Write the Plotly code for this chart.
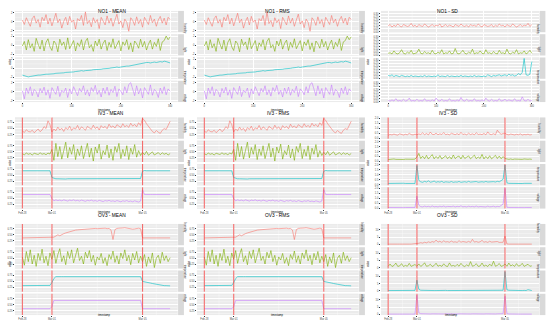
import plotly.graph_objects as go

W, H = 550, 327
STRIP_NAMES = ["humidity", "light", "temperature", "voltage"]
COLORS = ["#F8766D", "#7CAE00", "#00BFC4", "#C77CFF"]

# ---------------- NO1 (index 0..300, step 4) ----------------
NO1_STEP = 4
NO1_TICKS = [0, 100, 200, 300]

NO1_MEAN_HUM = [0.4,-0.6,0.9,0.1,-1.0,0.7,1.3,-0.3,0.5,-1.2,
                1.0,0.2,1.6,-0.5,0.8,-0.9,0.3,1.9,-0.2,0.6,
                -1.4,0.1,1.0,-0.7,1.2,-0.1,0.4,-1.6,0.7,0.2,
                1.4,-0.8,2.2,-0.4,0.3,-1.1,0.9,-0.2,0.5,-1.5,
                1.0,0.1,-0.7,1.3,-0.3,0.8,-1.0,0.4,1.7,-0.5,
                0.2,-1.3,0.6,-0.1,-2.1,0.9,0.3,-0.8,1.1,-0.4,
                0.5,-1.2,1.0,0.2,-0.6,1.4,-0.2,0.6,-1.0,0.4,
                1.2,-0.3,0.8,-0.7,1.0,0.5]
NO1_MEAN_LIGHT = [-0.2,0.8,-1.1,1.2,-0.6,0.3,-1.4,1.5,0.2,-0.9,
                  1.1,-1.3,0.6,1.4,-0.4,-1.2,0.9,0.3,-1.5,1.3,
                  -0.1,0.7,-1.0,1.6,-0.8,0.2,1.0,-1.3,0.5,-0.3,
                  1.2,-1.1,0.8,1.5,-0.6,0.1,-1.4,0.9,-0.2,1.3,
                  -0.9,0.4,1.1,-1.2,0.6,-0.5,1.4,-0.8,0.2,1.0,
                  -1.3,0.7,-0.1,1.2,-1.0,0.5,-1.5,0.9,0.3,-0.7,
                  1.3,-0.4,0.8,-1.1,0.2,1.1,-0.9,0.6,-0.3,1.4,
                  -1.2,0.7,1.0,2.0,1.2,1.8]
NO1_MEAN_TEMP = [-1.5,-1.6,-1.8,-1.9,-1.8,-1.7,-1.6,-1.6,-1.5,-1.5,
                 -1.4,-1.4,-1.3,-1.3,-1.3,-1.2,-1.2,-1.1,-1.1,-1.0,
                 -1.0,-1.0,-0.9,-0.9,-0.8,-0.8,-0.8,-0.7,-0.7,-0.6,
                 -0.5,-0.6,-0.5,-0.5,-0.4,-0.4,-0.3,-0.3,-0.3,-0.2,
                 -0.2,-0.1,-0.1,0.0,0.0,0.1,0.1,0.2,0.3,0.2,
                 0.3,0.4,0.4,0.5,0.5,0.6,0.6,0.7,0.8,0.9,
                 1.1,1.2,1.2,1.3,1.3,1.2,1.3,1.4,1.3,1.4,
                 1.5,1.4,1.6,1.5,1.3,1.2]
NO1_MEAN_VOLT = [0.2,-1.6,0.8,-0.4,1.1,-0.9,0.5,0.0,-1.2,0.7,
                 -0.3,1.0,-0.8,0.4,-1.5,0.9,0.1,-0.6,1.2,-1.1,
                 0.3,-0.2,0.8,-1.3,0.6,-0.5,1.1,0.2,-0.9,0.7,
                 -0.1,1.3,-0.7,0.4,-1.0,0.9,0.0,1.4,-0.6,0.3,
                 -1.2,0.8,-0.4,1.0,-0.8,0.5,-0.2,1.2,-1.1,0.6,
                 0.1,-0.7,1.1,-0.3,1.6,2.0,0.4,-0.9,1.3,-0.5,
                 0.7,-1.4,0.9,0.2,-0.6,1.5,-0.8,0.5,0.0,-1.3,
                 0.8,-0.4,1.1,-0.7,0.6,0.1]
# RMS panels look identical to the MEAN panels
NO1_RMS_HUM, NO1_RMS_LIGHT, NO1_RMS_TEMP, NO1_RMS_VOLT = NO1_MEAN_HUM, NO1_MEAN_LIGHT, NO1_MEAN_TEMP, NO1_MEAN_VOLT

NO1_SD_HUM = [0.10,0.12,0.08,0.11,0.09,0.13,0.10,0.08,0.12,0.11,
              0.09,0.10,0.14,0.09,0.11,0.08,0.12,0.10,0.09,0.13,
              0.11,0.08,0.10,0.12,0.09,0.11,0.10,0.13,0.08,0.10,
              0.12,0.09,0.11,0.10,0.08,0.12,0.11,0.09,0.13,0.10,
              0.09,0.11,0.08,0.12,0.10,0.11,0.09,0.13,0.10,0.08,
              0.12,0.11,0.09,0.10,0.12,0.08,0.11,0.09,0.13,0.10,
              0.11,0.08,0.12,0.10,0.09,0.13,0.11,0.08,0.10,0.12,
              0.09,0.11,0.10,0.14,0.09,0.12]
NO1_SD_LIGHT = [0.03,0.04,0.02,0.07,0.03,0.02,0.04,0.09,0.03,0.02,
                0.05,0.03,0.08,0.02,0.03,0.04,0.10,0.03,0.02,0.06,
                0.03,0.04,0.02,0.08,0.03,0.02,0.05,0.03,0.09,0.02,
                0.04,0.03,0.07,0.02,0.03,0.11,0.03,0.02,0.04,0.08,
                0.03,0.02,0.05,0.03,0.10,0.02,0.04,0.03,0.07,0.03,
                0.02,0.09,0.03,0.04,0.02,0.06,0.03,0.02,0.08,0.03,
                0.04,0.02,0.10,0.03,0.02,0.05,0.03,0.09,0.02,0.04,
                0.03,0.07,0.02,0.04,0.08,0.03]
NO1_SD_TEMP = [0.05,0.04,0.06,0.03,0.05,0.04,0.03,0.05,0.04,0.03,
               0.04,0.03,0.05,0.03,0.04,0.03,0.03,0.04,0.03,0.05,
               0.03,0.04,0.03,0.03,0.04,0.03,0.06,0.03,0.04,0.03,
               0.03,0.05,0.03,0.04,0.03,0.03,0.04,0.03,0.05,0.03,
               0.04,0.03,0.03,0.04,0.03,0.05,0.03,0.04,0.03,0.03,
               0.04,0.03,0.06,0.04,0.03,0.05,0.04,0.05,0.06,0.04,
               0.05,0.06,0.04,0.07,0.05,0.06,0.04,0.05,0.08,0.06,
               0.10,0.33,0.06,0.05,0.07,0.28]
NO1_SD_VOLT = [0.02,0.01,0.03,0.01,0.05,0.01,0.02,0.01,0.04,0.01,
               0.02,0.06,0.01,0.02,0.01,0.04,0.01,0.02,0.01,0.05,
               0.01,0.02,0.01,0.03,0.01,0.06,0.02,0.01,0.04,0.01,
               0.02,0.01,0.05,0.01,0.02,0.01,0.03,0.01,0.07,0.02,
               0.01,0.04,0.01,0.02,0.01,0.05,0.01,0.02,0.01,0.03,
               0.01,0.06,0.02,0.01,0.04,0.01,0.02,0.01,0.05,0.01,
               0.02,0.04,0.01,0.03,0.02,0.01,0.05,0.01,0.02,0.01,
               0.08,0.02,0.01,0.04,0.01,0.02]

# ---------------- IV3 / OV3 (time index 0..150, step 2) ----------------
EV_STEP = 2
EVENTS = [0, 30, 122]
EVENT_LABELS = ["Feb 28", "Mar 01", "Mar 05"]

IV3_MEAN_HUM = ([0.40,0.34,0.45,0.38,0.36,0.43,0.33,0.41,0.48,0.37,0.44,0.58,0.50,0.82,0.66] +
                [0.36,0.48,0.41,0.56,0.44,0.51,0.38,0.54,0.46,0.60,
                 0.42,0.53,0.48,0.63,0.45,0.57,0.51,0.43,0.59,0.54,
                 0.47,0.64,0.50,0.57,0.44,0.62,0.53,0.59,0.49,0.68,
                 0.55,0.61,0.52,0.66,0.58,0.54,0.70,0.57,0.63,0.55,
                 0.72,0.60,0.67,0.57,0.74,0.63] +
                [0.92,0.84,0.70,0.60,0.46,0.38,0.32,0.42,0.35,0.30,0.43,0.50,0.46,0.66,0.80])
IV3_MEAN_LIGHT = ([0.42,0.38,0.45,0.40,0.43,0.37,0.44,0.41,0.39,0.46,0.40,0.43,0.38,0.45,0.41] +
                  [0.60,0.15,0.85,0.30,0.72,0.20,0.55,0.90,0.25,0.68,
                   0.40,0.80,0.18,0.62,0.35,0.75,0.22,0.58,0.85,0.28,
                   0.65,0.12,0.70,0.45,0.82,0.20,0.55,0.38,0.78,0.25,
                   0.62,0.15,0.72,0.48,0.85,0.22,0.60,0.32,0.75,0.18,
                   0.65,0.40,0.80,0.28,0.55,0.35] +
                  [0.48,0.38,0.52,0.36,0.44,0.50,0.37,0.43,0.47,0.38,0.46,0.40,0.44,0.37,0.43])
IV3_MEAN_TEMP = ([0.68,0.68,0.69,0.68,0.68,0.67,0.68,0.68,0.69,0.68,0.68,0.68,0.67,0.68,0.68] +
                 [0.40,0.36,0.35,0.35,0.34,0.35,0.35,0.34,0.35,0.35,
                  0.36,0.35,0.35,0.34,0.35,0.35,0.35,0.36,0.35,0.35,
                  0.34,0.35,0.35,0.35,0.36,0.35,0.35,0.34,0.35,0.35,
                  0.35,0.34,0.35,0.35,0.36,0.35,0.35,0.34,0.35,0.35,
                  0.35,0.34,0.35,0.35,0.35,0.36] +
                 [0.66,0.69,0.68,0.68,0.69,0.68,0.68,0.68,0.69,0.68,0.68,0.68,0.68,0.69,0.68])
IV3_MEAN_VOLT = ([0.66,0.66,0.66,0.67,0.66,0.66,0.66,0.66,0.67,0.66,0.66,0.66,0.66,0.66,0.66] +
                 [0.50,0.40,0.44,0.41,0.43,0.40,0.44,0.42,0.39,0.43,
                  0.41,0.44,0.40,0.42,0.39,0.43,0.41,0.38,0.42,0.40,
                  0.43,0.39,0.41,0.38,0.42,0.40,0.37,0.41,0.39,0.42,
                  0.38,0.40,0.37,0.41,0.39,0.36,0.40,0.38,0.41,0.37,
                  0.39,0.36,0.40,0.38,0.35,0.39] +
                 [0.86,0.66,0.67,0.66,0.66,0.66,0.66,0.67,0.66,0.66,0.66,0.66,0.66,0.67,0.66])
IV3_RMS_HUM, IV3_RMS_LIGHT, IV3_RMS_TEMP, IV3_RMS_VOLT = IV3_MEAN_HUM, IV3_MEAN_LIGHT, IV3_MEAN_TEMP, IV3_MEAN_VOLT

IV3_SD_HUM = ([0.30,0.38,0.33,0.42,0.35,0.31,0.45,0.36,0.32,0.40,0.34,0.50,0.37,0.33,0.41] +
              [0.35,0.44,0.38,0.55,0.36,0.48,0.34,0.62,0.40,0.37,
               0.52,0.35,0.45,0.38,0.58,0.36,0.42,0.34,0.50,0.39,
               0.36,0.47,0.35,0.60,0.38,0.43,0.34,0.51,0.37,0.45,
               0.35,0.56,0.38,0.42,0.36,0.49,0.34,0.64,0.40,0.37,
               0.46,0.35,0.82,0.55,0.40,0.48] +
              [0.50,0.38,0.34,0.42,0.36,0.33,0.40,0.35,0.44,0.32,0.38,0.35,0.41,0.33,0.37])
IV3_SD_LIGHT = ([0.20,0.24,0.21,0.26,0.22,0.20,0.25,0.23,0.21,0.24,0.22,0.27,0.21,0.23,0.25] +
                [0.45,0.82,0.30,0.55,0.28,0.62,0.25,0.48,0.70,0.27,
                 0.52,0.30,0.60,0.26,0.45,0.58,0.28,0.50,0.25,0.66,
                 0.29,0.48,0.55,0.26,0.62,0.30,0.44,0.57,0.27,0.50,
                 0.64,0.28,0.46,0.30,0.72,0.26,0.52,0.29,0.58,0.27,
                 0.48,0.62,0.30,0.55,0.28,0.50] +
                [0.30,0.24,0.22,0.26,0.21,0.25,0.23,0.20,0.24,0.22,0.26,0.21,0.23,0.25,0.22])
IV3_SD_TEMP = ([0.14,0.15,0.13,0.16,0.14,0.15,0.13,0.14,0.16,0.14,0.15,0.13,0.14,0.15,0.14] +
               [1.95,0.45,0.30,0.25,0.35,0.28,0.40,0.26,0.30,0.38,
                0.25,0.32,0.27,0.35,0.24,0.30,0.28,0.26,0.33,0.25,
                0.29,0.27,0.34,0.25,0.28,0.31,0.26,0.35,0.27,0.30,
                0.28,0.33,0.26,0.29,0.31,0.27,0.34,0.28,0.30,0.26,
                0.32,0.28,0.35,0.30,0.45,0.55] +
               [2.00,0.20,0.15,0.14,0.15,0.13,0.14,0.15,0.14,0.13,0.15,0.14,0.13,0.14,0.15])
IV3_SD_VOLT = ([0.06,0.05,0.06,0.05,0.06,0.05,0.05,0.06,0.05,0.06,0.05,0.06,0.05,0.05,0.06] +
               [1.20,0.30,0.15,0.12,0.20,0.14,0.18,0.12,0.22,0.13,
                0.16,0.12,0.19,0.14,0.21,0.12,0.17,0.13,0.15,0.20,
                0.12,0.18,0.14,0.23,0.13,0.16,0.12,0.19,0.14,0.17,
                0.13,0.21,0.12,0.16,0.14,0.18,0.12,0.20,0.13,0.15,
                0.19,0.12,0.17,0.14,0.25,0.40] +
               [1.98,0.08,0.06,0.05,0.06,0.05,0.06,0.05,0.05,0.06,0.05,0.06,0.05,0.06,0.05])

OV3_MEAN_HUM = ([0.37,0.37,0.37,0.37,0.37,0.37,0.37,0.37,0.37,0.37,0.37,0.37,0.37,0.37,0.37] +
                [0.37,0.40,0.45,0.50,0.46,0.52,0.55,0.58,0.61,0.64,
                 0.66,0.68,0.70,0.71,0.72,0.73,0.74,0.74,0.75,0.76,
                 0.75,0.76,0.77,0.76,0.77,0.78,0.77,0.78,0.76,0.77,
                 0.70,0.30,0.72,0.77,0.78,0.77,0.79,0.80,0.78,0.79,
                 0.76,0.74,0.75,0.77,0.78,0.76] +
                [0.37,0.37,0.37,0.37,0.37,0.37,0.37,0.37,0.37,0.37,0.37,0.37,0.37,0.37,0.37])
OV3_MEAN_LIGHT = ([0.55,0.20,0.78,0.35,0.85,0.25,0.62,0.15,0.70,0.40,0.88,0.30,0.58,0.18,0.72] +
                  [0.45,0.82,0.28,0.65,0.90,0.35,0.60,0.22,0.78,0.48,
                   0.85,0.30,0.68,0.92,0.40,0.58,0.25,0.75,0.50,0.82,
                   0.35,0.62,0.20,0.55,0.42,0.70,0.28,0.52,0.18,0.65,
                   0.45,0.80,0.32,0.60,0.25,0.72,0.48,0.85,0.38,0.62,
                   0.22,0.70,0.42,0.78,0.30,0.58] +
                  [0.35,0.65,0.15,0.55,0.30,0.72,0.10,0.50,0.62,0.28,0.75,0.40,0.60,0.35,0.52])
OV3_MEAN_TEMP = ([0.32,0.32,0.31,0.31,0.31,0.30,0.30,0.30,0.30,0.30,0.30,0.30,0.31,0.31,0.33] +
                 [0.45,0.62,0.70,0.71,0.71,0.70,0.70,0.70,0.71,0.70,
                  0.70,0.70,0.69,0.70,0.70,0.70,0.71,0.70,0.70,0.70,
                  0.70,0.69,0.70,0.70,0.70,0.70,0.71,0.70,0.70,0.69,
                  0.70,0.70,0.70,0.71,0.70,0.70,0.70,0.69,0.70,0.70,
                  0.70,0.70,0.71,0.70,0.70,0.70] +
                 [0.50,0.49,0.47,0.45,0.43,0.41,0.39,0.37,0.35,0.34,0.33,0.32,0.32,0.31,0.31])
OV3_MEAN_VOLT = ([0.33,0.33,0.33,0.33,0.33,0.33,0.33,0.33,0.33,0.33,0.33,0.33,0.33,0.33,0.33] +
                 [0.42,0.68,0.68,0.68,0.68,0.68,0.68,0.67,0.68,0.68,
                  0.68,0.68,0.68,0.68,0.67,0.68,0.68,0.68,0.68,0.68,
                  0.68,0.67,0.68,0.68,0.68,0.68,0.68,0.68,0.67,0.68,
                  0.68,0.68,0.68,0.68,0.68,0.67,0.68,0.68,0.68,0.68,
                  0.68,0.68,0.67,0.68,0.68,0.68] +
                 [0.33,0.33,0.33,0.33,0.33,0.33,0.33,0.33,0.33,0.33,0.33,0.33,0.33,0.33,0.33])
OV3_RMS_HUM, OV3_RMS_LIGHT, OV3_RMS_TEMP, OV3_RMS_VOLT = OV3_MEAN_HUM, OV3_MEAN_LIGHT, OV3_MEAN_TEMP, OV3_MEAN_VOLT

OV3_SD_HUM = ([0.2,0.3,0.2,0.2,0.3,0.2,0.2,0.3,0.2,0.2,0.3,0.2,0.2,0.3,0.2] +
              [0.5,0.8,1.2,0.9,1.5,1.1,1.8,1.3,2.0,1.5,
               3.0,1.6,2.2,1.4,2.5,1.7,1.9,1.5,2.3,1.6,
               1.8,1.4,2.6,1.5,2.0,1.7,1.5,2.1,1.4,3.5,
               1.6,2.0,1.5,1.8,2.8,1.5,1.9,1.4,2.2,1.6,
               1.8,1.5,2.0,1.4,1.7,1.5] +
              [5.8,0.3,0.2,0.2,0.3,0.2,0.2,0.3,0.2,0.2,0.3,0.2,0.2,0.3,0.2])
OV3_SD_LIGHT = ([1.0,2.5,0.8,1.5,3.2,0.9,1.2,2.8,0.8,1.6,1.0,3.0,0.9,1.4,2.2] +
                [1.0,2.6,0.9,1.8,3.4,1.0,1.3,2.4,0.8,1.5,
                 3.1,1.0,1.7,0.9,2.7,1.2,0.8,3.3,1.1,1.6,
                 0.9,2.3,1.0,3.0,1.4,0.8,2.0,1.1,4.2,1.0,
                 1.5,2.8,0.9,1.2,3.2,1.0,1.8,0.8,2.5,1.1,
                 4.5,1.0,1.6,2.9,0.9,1.4] +
                [2.6,1.0,3.2,1.2,2.0,0.9,2.8,1.1,1.5,3.0,0.9,1.8,2.4,1.0,1.3])
OV3_SD_TEMP = ([0.3,0.3,0.2,0.3,0.3,0.2,0.3,0.3,0.2,0.3,0.3,0.2,0.3,0.3,0.4] +
               [7.5,1.2,0.5,0.4,0.3,0.4,0.3,0.3,0.4,0.3,
                0.3,0.4,0.3,0.3,0.3,0.4,0.3,0.3,0.3,0.4,
                0.3,0.3,0.4,0.3,0.3,0.3,0.4,0.3,0.3,0.3,
                0.4,0.3,0.3,0.3,0.4,0.3,0.3,0.3,0.4,0.3,
                0.3,0.3,0.4,0.3,0.3,0.5] +
               [13.5,0.8,0.5,0.4,0.4,0.3,0.4,0.3,0.4,0.3,0.4,0.3,0.9,0.4,0.3])
OV3_SD_VOLT = ([0.1,0.2,0.1,0.1,0.2,0.1,0.1,0.2,0.1,0.1,0.2,0.1,0.1,0.2,0.1] +
               [13.2,1.0,0.4,0.3,0.2,0.3,0.2,0.2,0.3,0.2,
                0.2,0.3,0.2,0.2,0.2,0.3,0.2,0.2,0.3,0.2,
                0.2,0.2,0.3,0.2,0.2,0.3,0.2,0.2,0.2,0.3,
                0.2,0.2,0.3,0.2,0.2,0.2,0.3,0.2,0.2,0.3,
                0.2,0.2,0.3,0.2,0.3,0.4] +
               [12.5,0.4,0.2,0.1,0.2,0.1,0.1,0.2,0.1,0.1,0.2,0.1,0.1,0.2,0.1])

# y-axis tick settings per panel type
Y_MEAN_NO1 = dict(vals=[-2, 0, 2], text=["-2", "0", "2"], minor=[-1, 1])
Y_MEAN_EV = dict(vals=[0.25, 0.5, 0.75], text=["0.25", "0.50", "0.75"], minor=[0.125, 0.375, 0.625, 0.875])
Y_SD_NO1 = dict(vals=[0, 0.05, 0.1, 0.15, 0.2, 0.25, 0.3],
                text=["0.00", "0.05", "0.10", "0.15", "0.20", "0.25", "0.30"], minor=[])
Y_SD_IV3 = dict(vals=[0, 0.5, 1.0, 1.5, 2.0], text=["0.0", "0.5", "1.0", "1.5", "2.0"],
                minor=[0.25, 0.75, 1.25, 1.75])
Y_SD_OV3 = dict(vals=[0, 5, 10], text=["0", "5", "10"], minor=[2.5, 7.5, 12.5])

PANELS = [
    (0, 0, "NO1 - MEAN", [NO1_MEAN_HUM, NO1_MEAN_LIGHT, NO1_MEAN_TEMP, NO1_MEAN_VOLT], "no1", Y_MEAN_NO1),
    (0, 1, "NO1 - RMS", [NO1_RMS_HUM, NO1_RMS_LIGHT, NO1_RMS_TEMP, NO1_RMS_VOLT], "no1", Y_MEAN_NO1),
    (0, 2, "NO1 - SD", [NO1_SD_HUM, NO1_SD_LIGHT, NO1_SD_TEMP, NO1_SD_VOLT], "no1", Y_SD_NO1),
    (1, 0, "IV3 - MEAN", [IV3_MEAN_HUM, IV3_MEAN_LIGHT, IV3_MEAN_TEMP, IV3_MEAN_VOLT], "ev", Y_MEAN_EV),
    (1, 1, "IV3 - RMS", [IV3_RMS_HUM, IV3_RMS_LIGHT, IV3_RMS_TEMP, IV3_RMS_VOLT], "ev", Y_MEAN_EV),
    (1, 2, "IV3 - SD", [IV3_SD_HUM, IV3_SD_LIGHT, IV3_SD_TEMP, IV3_SD_VOLT], "ev", Y_SD_IV3),
    (2, 0, "OV3 - MEAN", [OV3_MEAN_HUM, OV3_MEAN_LIGHT, OV3_MEAN_TEMP, OV3_MEAN_VOLT], "ev", Y_MEAN_EV),
    (2, 1, "OV3 - RMS", [OV3_RMS_HUM, OV3_RMS_LIGHT, OV3_RMS_TEMP, OV3_RMS_VOLT], "ev", Y_MEAN_EV),
    (2, 2, "OV3 - SD", [OV3_SD_HUM, OV3_SD_LIGHT, OV3_SD_TEMP, OV3_SD_VOLT], "ev", Y_SD_OV3),
]

# layout geometry (pixels)
COL_LEFT = [0, 183, 366]
COL_PLOT = [(15, 177.5), (197, 358.5), (381, 539)]
ROW_TOP = [0, 107.5, 215]
FONT = "Liberation Sans, Arial, sans-serif"
TICK_FONT = dict(size=2.6, color="#4D4D4D", family=FONT)


def px(x):
    return x / W


def py(y):
    return 1 - y / H


fig = go.Figure()
layout = {}
shapes = []
annotations = []
n = 0
for (row, col, title, series, kind, yt) in PANELS:
    x0p, x1p = COL_PLOT[col]
    T = ROW_TOP[row]
    top, bot, gap = T + 10, T + 102, 2
    h = (bot - top - 3 * gap) / 4
    allv = [v for s in series for v in s]
    lo, hi = min(allv), max(allv)
    pad = (hi - lo) * 0.05
    yr = [lo - pad, hi + pad]
    if kind == "no1":
        step = NO1_STEP
        xr = [-15, 315]
        xt, xtt = NO1_TICKS, [str(v) for v in NO1_TICKS]
        xminor = [50, 150, 250]
    else:
        step = EV_STEP
        xr = [-7.5, 157.5]
        xt, xtt = EVENTS, EVENT_LABELS
        xminor = [15, 76, 136]
    for k, s in enumerate(series):
        n += 1
        sfx = "" if n == 1 else str(n)
        ys0 = top + k * (h + gap)
        ys1 = ys0 + h
        xs = [i * step for i in range(len(s))]
        fig.add_trace(go.Scatter(
            x=xs, y=s, mode="lines", line=dict(color=COLORS[k], width=0.6),
            xaxis="x" + sfx, yaxis="y" + sfx, showlegend=False, hoverinfo="skip"))
        last = (k == 3)
        layout["xaxis" + sfx] = dict(
            domain=[px(x0p), px(x1p)], anchor="y" + sfx, range=xr,
            tickmode="array", tickvals=xt, ticktext=xtt,
            showticklabels=last, ticks="outside" if last else "", ticklen=1,
            tickwidth=0.5, tickcolor="#333333", tickfont=TICK_FONT,
            showgrid=True, gridcolor="white", gridwidth=0.7,
            zeroline=False, showline=False, fixedrange=True)
        layout["yaxis" + sfx] = dict(
            domain=[py(ys1), py(ys0)], anchor="x" + sfx, range=yr,
            tickmode="array", tickvals=yt["vals"], ticktext=yt["text"],
            ticks="outside", ticklen=1, tickwidth=0.5, tickcolor="#333333", tickfont=TICK_FONT,
            showgrid=True, gridcolor="white", gridwidth=0.7,
            zeroline=False, showline=False, fixedrange=True)
        # grey panel background
        shapes.append(dict(type="rect", xref="x" + sfx + " domain", yref="y" + sfx + " domain",
                           x0=0, x1=1, y0=0, y1=1, fillcolor="#EBEBEB",
                           line=dict(width=0), layer="below"))
        # thin minor grid lines
        for mx in xminor:
            shapes.append(dict(type="line", xref="x" + sfx, yref="y" + sfx + " domain",
                               x0=mx, x1=mx, y0=0, y1=1, line=dict(color="white", width=0.35),
                               layer="below"))
        for my in yt["minor"]:
            if yr[0] < my < yr[1]:
                shapes.append(dict(type="line", xref="x" + sfx + " domain", yref="y" + sfx,
                                   x0=0, x1=1, y0=my, y1=my, line=dict(color="white", width=0.35),
                                   layer="below"))
        if kind == "ev":
            for ev in EVENTS:
                shapes.append(dict(type="line", xref="x" + sfx, yref="y" + sfx + " domain",
                                   x0=ev, x1=ev, y0=0, y1=1,
                                   line=dict(color="rgba(240,60,60,0.75)", width=1.1)))
        # strip label box on the right
        shapes.append(dict(type="rect", xref="paper", yref="paper",
                           x0=px(x1p + 0.6), x1=px(x1p + 6.4), y0=py(ys1), y1=py(ys0),
                           fillcolor="#D9D9D9", line=dict(width=0), layer="below"))
        annotations.append(dict(x=px(x1p + 3.5), y=py((ys0 + ys1) / 2), xref="paper", yref="paper",
                                text=STRIP_NAMES[k], textangle=90, showarrow=False,
                                font=dict(size=2.6, color="#1A1A1A", family=FONT)))
    # panel title
    annotations.append(dict(x=px((x0p + x1p) / 2), y=py(T + 5.8), xref="paper", yref="paper",
                            text=title, showarrow=False, font=dict(size=4.8, color="black", family=FONT)))
    # axis titles
    annotations.append(dict(x=px((x0p + x1p) / 2), y=py(T + 105.8), xref="paper", yref="paper",
                            text="timestamp", showarrow=False, font=dict(size=2.6, color="black", family=FONT)))
    annotations.append(dict(x=px(COL_LEFT[col] + 6), y=py((top + bot) / 2), xref="paper", yref="paper",
                            text="value", textangle=-90, showarrow=False,
                            font=dict(size=2.6, color="black", family=FONT)))

fig.update_layout(**layout)
fig.update_layout(
    width=W, height=H, autosize=False,
    margin=dict(l=0, r=0, t=0, b=0),
    paper_bgcolor="white", plot_bgcolor="#EBEBEB",
    shapes=shapes, annotations=annotations, showlegend=False,
    font=dict(family=FONT),
)
fig.write_html("out.html", config={"displayModeBar": False},
               post_script="document.body.style.margin='0px';document.body.style.overflow='hidden';")
